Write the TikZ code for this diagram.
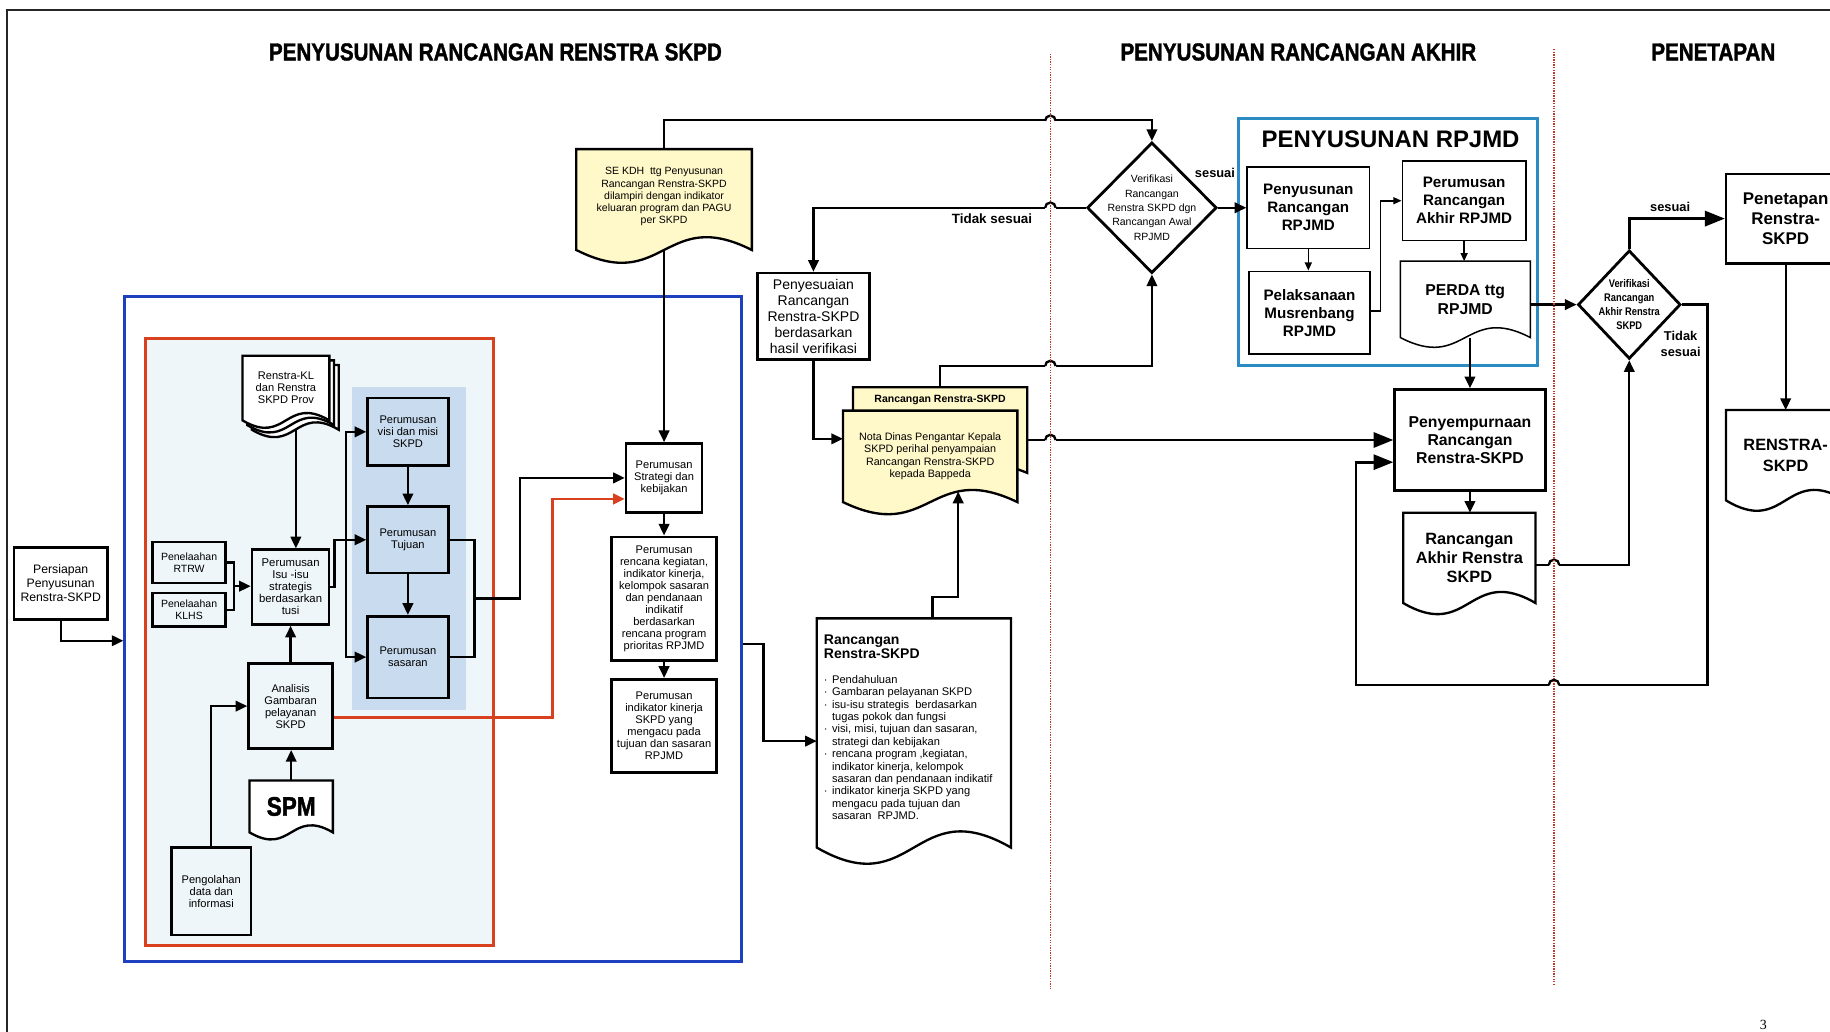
\documentclass[tikz,border=0pt]{standalone}
\usepackage{fontspec}
\setmainfont{Liberation Sans}
\newfontfamily\condbf{Liberation Sans}[FakeStretch=0.84]
\newfontfamily\headbf{Liberation Sans}[FakeStretch=0.84,FakeBold=1.5]
\newfontfamily\serif{Liberation Serif}
\usetikzlibrary{arrows.meta,calc,shapes.geometric}

\definecolor{docyellow}{HTML}{FFF8C8}
\definecolor{palebg}{HTML}{EEF6FA}
\definecolor{grpblue}{HTML}{C9DCEF}
\definecolor{frameblue}{HTML}{1E3FBE}
\definecolor{framered}{HTML}{D9411E}
\definecolor{rpjmdblue}{HTML}{2B8CC4}
\definecolor{divred}{HTML}{C0392B}

\pgfdeclarelayer{back}
\pgfdeclarelayer{bg}
\pgfsetlayers{back,bg,main}

\newcommand\fs[2]{\fontsize{#1}{#2}\selectfont}
% document outline with wavy bottom: node, wave, offset, style
\newcommand\docpath[4]{%
  \draw[#4] ($(#1.south west)+(#3)$) -- ($(#1.north west)+(#3)$)
    -- ($(#1.north east)+(#3)$) -- ($(#1.south east)+(#3)$)
    .. controls ($(#1.south)+(#3)+(0,-#2)$) and ($(#1.south)+(#3)+(0,#2)$) ..
    ($(#1.south west)+(#3)$) -- cycle;}
% line jump over a divider
\newcommand\hop[1]{%
  \fill[white] ($(#1)+(-4.5,-1.8)$) rectangle ($(#1)+(4.5,1.8)$);
  \draw[line] ($(#1)+(-4.5,0)$) arc[start angle=180,end angle=0,radius=4.5pt];}
\newcommand\itm{\par\hangindent=7pt\hangafter=1\noindent\makebox[7pt][l]{·}}

\tikzset{
  every node/.style={font=\fs{9.5}{10.3}, align=center, inner sep=1pt},
  sz/.style 2 args={minimum width=#1pt, minimum height=#2pt},
  box/.style={draw, line width=2.3pt, fill=white},
  pale/.style={box, fill=palebg},
  grp/.style={box, fill=grpblue},
  sbox/.style={draw, line width=1.3pt, fill=white},
  doc/.style={inner sep=0pt},
  docline/.style={line width=2pt},
  line/.style={line width=2pt},
  arr/.style={line, -{Triangle[length=10pt,width=9pt]}},
  arrbig/.style={line width=2.3pt, -{Triangle[length=17pt,width=13pt]}},
  arrsm/.style={line width=1.3pt, -{Triangle[length=7pt,width=6pt]}},
  arrred/.style={arr, draw=framered, line width=2.3pt},
  decide/.style={diamond, draw, line width=2.4pt, fill=white, inner sep=0pt},
  divider/.style={draw=divred, line width=1.2pt, densely dotted},
  heading/.style={font=\headbf\bfseries\fs{21}{21}},
  hb/.style 2 args={font=\bfseries\fs{#1}{#2}},
}

\begin{document}
\begin{tikzpicture}[x=1pt,y=-1pt]
\useasboundingbox (0,0) rectangle (1568,884);

% containers
\begin{pgfonlayer}{back}
\fill[white] (0,0) rectangle (1568,884);
\node[draw=frameblue, line width=2.5pt, fill=white, sz={528}{570}] (blue) at (371,539) {};
\node[draw=framered, line width=2.5pt, fill=palebg, sz={298}{520}] (red) at (274,550) {};
\node[fill=grpblue, sz={97}{276}] (shade) at (350.5,470) {};
\node[draw=rpjmdblue, line width=3pt, fill=white, sz={256.5}{211.4}] (rpjmd) at (1189.25,207.3) {};
\end{pgfonlayer}

\draw[line width=1.5pt, black!85] (6,884) -- (6,8.6) -- (1568,8.6);

\node[heading] (h1) at (424.5,44.5) {PENYUSUNAN RANCANGAN RENSTRA SKPD};
\node[heading] (h2) at (1112.5,44.5) {PENYUSUNAN RANCANGAN AKHIR};
\node[heading] (h3) at (1468,44.5) {PENETAPAN};

% penyusunan rancangan
\node[box, sz={80}{62}, font=\fs{10.5}{12}] (persiapan) at (52,500) {Persiapan\\Penyusunan\\Renstra-SKPD};
\node[pale, sz={63}{35}, font=\fs{9}{10}] (rtrw) at (162,482) {Penelaahan\\RTRW};
\node[pale, sz={63}{29}, font=\fs{9}{10}] (klhs) at (162,522.5) {Penelaahan\\KLHS};
\node[pale, sz={66}{64}, font=\fs{9.7}{10.3}] (isu) at (249,503) {Perumusan\\Isu -isu\\strategis\\berdasarkan\\tusi};
\node[pale, sz={72}{73}] (analisis) at (249,605) {Analisis\\Gambaran\\pelayanan\\SKPD};
\node[doc, sz={71}{44}, font=\headbf\bfseries\fs{23}{24}] (spm) at (249.5,691) {SPM};
\node[pale, sz={68}{75}] (olah) at (181,763.5) {Pengolahan\\data dan\\informasi};
\node[doc, sz={74}{55}] (renkl) at (245,332.5) {Renstra-KL\\dan Renstra\\SKPD Prov};
\node[grp, sz={69}{58}] (visi) at (349.5,370) {Perumusan\\visi dan misi\\SKPD};
\node[grp, sz={69}{57}] (tujuan) at (349.5,462.5) {Perumusan\\Tujuan};
\node[grp, sz={69}{70}] (sasaran) at (349.5,563) {Perumusan\\sasaran};
\node[box, sz={65}{59}] (strategi) at (569,409.5) {Perumusan\\Strategi dan\\kebijakan};
\node[box, sz={90}{106}] (rencana) at (569,513) {Perumusan\\rencana kegiatan,\\indikator kinerja,\\kelompok sasaran\\dan pendanaan\\indikatif\\berdasarkan\\rencana program\\prioritas RPJMD};
\node[box, sz={90}{80}] (indikator) at (569,622) {Perumusan\\indikator kinerja\\SKPD yang\\mengacu pada\\tujuan dan sasaran\\RPJMD};
\node[doc, sz={150}{86}, font=\fs{9}{10.5}] (sekdh) at (569,171) {SE KDH\ \ ttg Penyusunan\\Rancangan Renstra-SKPD\\dilampiri dengan indikator\\keluaran program dan PAGU\\per SKPD\\[-4pt]\mbox{}};
\node[box, sz={96}{74}, font=\fs{12}{13.7}] (penyesuaian) at (697,271) {Penyesuaian\\Rancangan\\Renstra-SKPD\\berdasarkan\\hasil verifikasi};
\node[doc, sz={149}{73}, label={[anchor=north, inner sep=7pt, font=\bfseries\fs{9}{10}]north:Rancangan Renstra-SKPD}] (ranback) at (805.5,368.5) {};
\node[doc, sz={149}{78}, font=\fs{9.2}{10.6}] (nota) at (797,391) {Nota Dinas Pengantar Kepala\\SKPD perihal penyampaian\\Rancangan Renstra-SKPD\\kepada Bappeda};
\node[doc, sz={166}{196}] (rancangan) at (783,628) {\parbox{154pt}{\raggedright
  {\bfseries\fs{12}{12}Rancangan\\Renstra-SKPD\par}
  \vspace{11pt}\fs{9.5}{10.6}%
  \itm Pendahuluan
  \itm Gambaran pelayanan SKPD
  \itm isu-isu strategis\ \ berdasarkan\newline tugas pokok dan fungsi
  \itm visi, misi, tujuan dan sasaran,\newline strategi dan kebijakan
  \itm rencana program ,kegiatan,\newline indikator kinerja, kelompok\newline sasaran dan pendanaan indikatif
  \itm indikator kinerja SKPD yang\newline mengacu pada tujuan dan\newline sasaran\ \ RPJMD.\par
  \vspace{10pt}}};

% penyusunan rancangan akhir
\node[decide, sz={111}{112}, label={[font=\fs{9}{12.3}]center:Verifikasi\\Rancangan\\Renstra SKPD dgn\\Rancangan Awal\\RPJMD}] (verif) at (987,178) {};
\node[hb={11.5}{13}] (tslab) at (850,187) {Tidak sesuai};
\node[hb={11}{13}] (slab) at (1041,148) {sesuai};
\node[font=\bfseries\fs{20.5}{21}] (rpjmdttl) at (1191.5,119.5) {PENYUSUNAN RPJMD};
\node[sbox, sz={105}{69.5}, hb={13}{15.5}] (susun) at (1121,178) {Penyusunan\\Rancangan\\RPJMD};
\node[sbox, sz={104}{71}, hb={13}{15.5}] (musren) at (1122,268) {Pelaksanaan\\Musrenbang\\RPJMD};
\node[sbox, sz={106}{68}, hb={13}{15.5}] (akhir) at (1254.5,172) {Perumusan\\Rancangan\\Akhir RPJMD};
\node[doc, sz={111}{65}, hb={13.5}{16}] (perda) at (1255.5,256.5) {PERDA ttg\\RPJMD};
\node[box, sz={129}{86.5}, hb={13.5}{15.6}] (sempurna) at (1259.5,377) {Penyempurnaan\\Rancangan\\Renstra-SKPD};
\node[doc, sz={113}{77}, hb={14}{16.5}] (rakhir) at (1259,478) {Rancangan\\Akhir Renstra\\SKPD};

% penetapan
\node[decide, sz={88}{93}, label={[font=\condbf\bfseries\fs{9.5}{12}]center:Verifikasi\\Rancangan\\Akhir Renstra\\SKPD}] (verif2) at (1396,261) {};
\node[hb={11}{13}] (slab2) at (1431,177) {sesuai};
\node[hb={11}{14}] (tslab2) at (1440,294.5) {Tidak\\sesuai};
\node[box, sz={102}{76.6}, hb={14.5}{17}] (penetapan) at (1530,187.3) {Penetapan\\Renstra-\\SKPD};
\node[doc, sz={102}{77}, hb={14}{18}] (renstra) at (1530,390) {RENSTRA-\\SKPD};
\node[font=\serif\fs{12}{12}] (pg) at (1511,878) {3};

\begin{pgfonlayer}{bg}
\draw[arr] (persiapan.south) |- ($(blue.west)+(0,10)$);
\draw[arr] ($(renkl.south)+(8.5,8)$) -- ($(isu.north)+(4.5,0)$);
\draw[line] (rtrw.east) -- ++(6,0) |- (klhs.east);
\coordinate (rk) at ($(rtrw.east)!0.5!(klhs.east)+(6,0)$);
\draw[arr] (rk) -- (rk -| isu.west);
\draw[arr] (isu.east) -- ++(3.5,0) |- (tujuan.west);
\draw[arr] ($(tujuan.west)+(-17.5,0)$) |- (visi.west);
\draw[arr] ($(tujuan.west)+(-17.5,0)$) |- (sasaran.west);
\draw[arr] (visi.south) -- (tujuan.north);
\draw[arr] (tujuan.south) -- (sasaran.north);
\draw[line] (tujuan.east) -- ++(21.5,0) |- (sasaran.east);
\draw[arr] ($(tujuan.east)!0.5!(sasaran.east)+(21.5,0)$) -- ++(39,0) |- (strategi.west);
\draw[arr] (analisis.north) -- (isu.south);
\draw[arr] (spm.north) -- (spm.north |- analisis.south);
\draw[arr] (olah.north) |- (analisis.west);
\draw[arrred] ($(analisis.east)+(0,10)$) -- ++(187.5,0) |- ($(strategi.west)+(0,18)$);
\draw[arr] (sekdh.north) -- ++(0,-25) -| (verif.north);
\draw[arr] (sekdh.south) -- (strategi.north);
\draw[arr] (strategi.south) -- (rencana.north);
\draw[arr] (rencana.south) -- (indikator.north);
\draw[arr] ($(blue.east)+(0,13)$) -- ++(18,0) |- ($(rancangan.west)+(0,7)$);
\draw[arr] (verif.west) -| (penyesuaian.north);
\draw[arr] (penyesuaian.south) |- ($(nota.west)+(0,-15)$);
\draw[arr] (ranback.north) -- ++(0,-18.4) -| (verif.south);
\draw[arrbig] (nota.east |- sempurna.west) -- (sempurna.west);
\draw[arr] ($(rancangan.north)+(16,0)$) -- ++(0,-18.5) -| ($(nota.south)+(24,-9)$);
\draw[arr] (verif.east) -- (susun.west);
\draw[arrsm] (susun.south) -- (susun.south |- musren.north);
\draw[arrsm] ($(musren.east)+(0,-1.5)$) -- ++(8,0) |- (akhir.west);
\draw[arrsm] (akhir.south) -- (akhir.south |- perda.north);
\draw[arr] (perda.east |- verif2.west) -- (verif2.west);
\draw[arr] (sempurna.north |- perda.south) -- (sempurna.north);
\draw[arr] (sempurna.south) -- (sempurna.south |- rakhir.north);
\draw[arr] ($(rakhir.east)+(0,6)$) -| (verif2.south);
\draw[arrbig] (verif2.north) |- (penetapan.west);
\draw[arrbig] (verif2.east) -- ++(22,0) -- ++(0,326) -| ($(sempurna.west)+(-32,19)$) -- ($(sempurna.west)+(0,19)$);
\draw[arr] (penetapan.south) -- (renstra.north);
% jumps
\hop{900,103.5}
\hop{900,178}
\hop{900,313.6}
\hop{900,377}
\hop{1331.5,484}
\hop{1331.5,587}
% phase dividers
\draw[divider] (900,46) -- (900,847);
\draw[divider] (1331.5,42) -- (1331.5,843);
% documents
\docpath{renkl}{22}{8,8}{docline,fill=white}
\docpath{renkl}{22}{4,4}{docline,fill=white}
\docpath{renkl}{22}{0,0}{docline,fill=white}
\docpath{spm}{21}{0,0}{docline,fill=white}
\docpath{sekdh}{38}{0,0}{docline,fill=docyellow}
\docpath{ranback}{30}{0,0}{docline,fill=docyellow}
\docpath{nota}{36}{0,0}{docline,fill=docyellow}
\docpath{rancangan}{48}{0,0}{docline,fill=white}
\docpath{perda}{29}{0,0}{line width=1.3pt,fill=white}
\docpath{rakhir}{33}{0,0}{docline,fill=white}
\docpath{renstra}{31}{0,0}{docline,fill=white}
\end{pgfonlayer}
\end{tikzpicture}
\end{document}
